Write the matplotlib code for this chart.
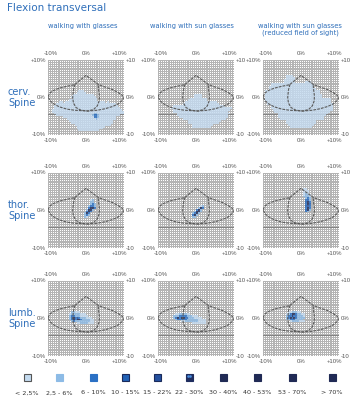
import numpy as np
import matplotlib.pyplot as plt
from matplotlib.colors import ListedColormap, BoundaryNorm
from matplotlib.patches import Rectangle
from matplotlib.collections import LineCollection

# Judul dan label
title = "Flexion transversal"
col_titles = ["walking with glasses", "walking with sun glasses",
              "walking with sun glasses\n(reduced field of sight)"]
row_titles = ["cerv.\nSpine", "thor.\nSpine", "lumb.\nSpine"]

# Kelas persentase (legenda)
legend_labels = ["< 2,5%", "2,5 - 6%", "6 - 10%", "10 - 15%", "15 - 22%",
                 "22 - 30%", "30 - 40%", "40 - 53%", "53 - 70%", "> 70%"]
level_colors = ["#c4dbf0", "#8dbbe6", "#2a70c4", "#2262b6", "#24509e",
                "#1f2d5e", "#202a55", "#202a55", "#202a55", "#202a55"]

# Garis bentuk (lensa + tetes) dalam %
lens_x = [-10, -9.5, -8.5, -7, -5, -3, -2.9, 0, 3.2, 5, 7, 8.5, 9.5, 10,
          9.5, 8.5, 7, 5, 3, 0.5, -3, -5, -7, -8.5, -9.5, -10]
lens_y = [0.2, 1.2, 1.9, 2.5, 3.0, 3.4, 3.5, 5.9, 3.5, 2.8, 2.1, 1.3, 0.6, 0.1,
          -0.8, -1.7, -2.4, -3.0, -3.4, -3.6, -3.4, -3.1, -2.5, -1.7, -0.8, 0.2]
drop_x = [-2.9, -3.3, -3.5, -3.3, -2.6, -1.3, 0.5, 2.0, 3.0, 3.5, 3.5, 3.3, 3.2]
drop_y = [3.5, 2.0, 0.0, -1.5, -2.7, -3.4, -3.6, -3.2, -2.2, -0.8, 0.7, 2.2, 3.5]

# Peta panas tiap panel: (kolom awal, baris awal, baris) - sel 0.5 %
# '.' = kosong, angka = kelas (1 = < 2,5% ... 7 = 30 - 40%)
cerv_glasses = (2, 16, [
    "..............111.....................",
    ".............11111....................",
    "...........11111111111................",
    "..........1111111111111...............",
    "...........1111111111111..............",
    ".........111111111111111..............",
    "....11.111111111111111111111.1........",
    "..11111111111111111111111111111111....",
    ".1111111111111111111111111111111111...",
    ".11111111111111111111111111111111111..",
    "1111111111111111111111111111111111111.",
    "11111111111111111111111111111111111111",
    ".1111111111111111111112211111111111111",
    "..1111111111111111111233211111111111..",
    "......1111111111111111332111111111....",
    "........11111111111111121111111111....",
    ".........11111111111111111111111......",
    "..........1111111111111111111111......",
    "............1111111111111111111.......",
    ".............111111111111111..........",
    ".............11111111111111...........",
    "..............11111111111.............",
])
cerv_sun = (5, 18, [
    "..............1111.................",
    "..............1111.................",
    "............111111111..............",
    "...........1111111111..............",
    ".........11111111111111111.........",
    "........1111111111111111111........",
    "...111111111111111111111111111.....",
    "..11111111111111111111111111111111.",
    "...111111111111111111111111111111..",
    "...11111111111111111111111111111...",
    ".....1111111111111111111111111111..",
    ".....111111111111111111111111111...",
    "......11111111111111111111111111...",
    "........11111111111111111111111....",
    "...........11111111111111111.......",
    "...........1111111111111111........",
    ".............11111111111...........",
    ".............1111111111............",
])
cerv_reduced = (0, 8, [
    "............1111....................",
    "............11111...................",
    "...........111111...................",
    "...........111111.....111...........",
    "....1111111111111111111111..........",
    "....11111111111111111111111.........",
    "...111111111111111111111111.........",
    "...1111111111111111111111111........",
    ".11111111111111111111111111111......",
    ".11111111111111111111111111111......",
    ".111111111111111111111111111111.....",
    ".111111111111111111111111111111.....",
    ".11111111111111111111111111111111111",
    ".11111111111111111111111111111111111",
    "..1111111111111111111111111111111111",
    "..11111111111111111111111111111111111",
    "....111111111111111111111111111111111",
    "....111111111111111111111111111111111",
    ".....11111111111111111111111111111111",
    "......11111111111111111111111111111..",
    "........11111111111111111111111111...",
    "........1111111111111111111111111....",
    "........111111111111111111111111.....",
    ".........11111111111111111111111.....",
    "............1111111111111111.........",
    "............1111111111111111.........",
    ".............11111111111111..........",
    "..............111111111111...........",
])
thor_glasses = (19, 14, [
    "...12.",
    "...22.",
    "...232",
    "..2332",
    "..3673",
    ".2762.",
    ".363..",
    "273...",
    "232...",
    "21....",
])
thor_sun = (18, 17, [
    "....12",
    "...273",
    "..372.",
    ".2762.",
    "2372..",
    "372...",
    "22....",
])
thor_reduced = (20, 8, [
    ".11..",
    ".111.",
    ".121.",
    ".1221",
    ".2221",
    "..232",
    "..342",
    "..463",
    "..374",
    "..453",
    "..373",
    "..462",
    "..32.",
])
lumb_glasses = (10, 16, [
    "..22111.......",
    ".122222111....",
    ".2332221111...",
    ".237353222111.",
    ".2363773222211",
    "..232222222211",
    ".....112222111",
])
lumb_sun = (6, 17, [
    "...11222211........",
    "..2223333222111....",
    "..237377332221111..",
    "...2333332222221111",
    "......1122222221111",
    "............1111111",
])
lumb_reduced = (11, 16, [
    "..1122211...",
    ".1237732211.",
    ".2336332221.",
    ".2373732222.",
    ".223332222..",
    "...12222111.",
])
panels = [[cerv_glasses, cerv_sun, cerv_reduced],
          [thor_glasses, thor_sun, thor_reduced],
          [lumb_glasses, lumb_sun, lumb_reduced]]

W, H = 356, 400
col_left = [48, 158, 263]
row_top = [60, 173, 281]
pw, ph = 76, 75
blue = "#2f6fba"
gray_txt = "#555555"
tick_font = "Liberation Sans"

cmap = ListedColormap(level_colors)
norm = BoundaryNorm(np.arange(0.5, 11.5, 1), cmap.N)
edges = np.linspace(-10, 10, 41)

fig = plt.figure(figsize=(W / 100, H / 100), dpi=100)

for r in range(3):
    for c in range(3):
        ax = fig.add_axes([col_left[c] / W, 1 - (row_top[r] + ph) / H, pw / W, ph / H])
        ax.set_xlim(-10, 10)
        ax.set_ylim(-10, 10)
        ax.axis("off")

        # grid halus
        segs = [[(v, -10), (v, 10)] for v in edges] + [[(-10, v), (10, v)] for v in edges]
        ax.add_collection(LineCollection(segs, colors="#b4b4b4", linewidths=0.5,
                                         antialiaseds=False, zorder=1))
        ax.plot([-10, 10], [-4.5, -4.5], color="#7a7a7a", lw=0.6, zorder=1)

        # isi peta panas (di atas grid, sedikit transparan)
        col0, row0, rows = panels[r][c]
        z = np.full((40, 40), np.nan)
        for j in range(len(rows)):
            for i in range(len(rows[j])):
                ch = rows[j][i]
                if ch != ".":
                    z[row0 + j, col0 + i] = int(ch)
        ax.pcolormesh(edges, edges[::-1], z, cmap=cmap, norm=norm, alpha=0.82, zorder=2)

        # garis bentuk
        ax.plot(lens_x, lens_y, color="#5a5a5a", lw=0.8, ls=(0, (2.5, 1)), zorder=3)
        ax.plot(drop_x, drop_y, color="#5a5a5a", lw=0.8, ls=(0, (2.5, 1)), zorder=3)

        # label sumbu
        fs = 4.3
        for xv, lab in [(-9.2, "-10%"), (0, "0%"), (8.8, "+10%")]:
            ax.annotate(lab, xy=(xv, 10), xytext=(0, 3), textcoords="offset points",
                        ha="center", va="bottom", fontsize=fs, color=gray_txt,
                        family=tick_font)
            ax.annotate(lab, xy=(xv, -10), xytext=(0, -2), textcoords="offset points",
                        ha="center", va="top", fontsize=fs, color=gray_txt,
                        family=tick_font)
        for yv, lab in [(10, "+10%"), (0, "0%"), (-10, "-10%")]:
            ax.annotate(lab, xy=(-10, yv), xytext=(-1.5, 0), textcoords="offset points",
                        ha="right", va="center", fontsize=fs, color=gray_txt,
                        family=tick_font)
        for yv, lab in [(10, "+10"), (0, "0%"), (-10, "-10")]:
            ax.annotate(lab, xy=(10, yv), xytext=(1, 0), textcoords="offset points",
                        ha="left", va="center", fontsize=fs, color=gray_txt,
                        family=tick_font)

# lapisan teks dan legenda
top = fig.add_axes([0, 0, 1, 1])
top.set_xlim(0, W)
top.set_ylim(H, 0)
top.axis("off")
top.text(7, 8, title, fontsize=7.5, color=blue, ha="left", va="center")
col_cx = [83, 192, 300]
for c in range(3):
    top.text(col_cx[c], 23, col_titles[c], fontsize=4.9, color=blue,
             ha="center", va="top", linespacing=1.15)
for r in range(3):
    top.text(8, row_top[r] + ph / 2, row_titles[r], fontsize=7, color=blue,
             ha="left", va="center", linespacing=1.1)

leg_x = [27, 59, 93, 125, 157, 189, 223, 257, 292, 332]
for k in range(10):
    edge = "#555555" if k == 0 else ("#1a2a5a" if k in (3, 4) else level_colors[k])
    top.add_patch(Rectangle((leg_x[k] - 3.5, 374), 7, 7, facecolor=level_colors[k],
                            edgecolor=edge, lw=0.8))
    if k == 5:
        top.plot([leg_x[k] - 1.2, leg_x[k] + 1.2], [376, 376], ls="none",
                 marker="s", ms=0.8, color="#4a8ee0")
    top.text(leg_x[k], 393, legend_labels[k], fontsize=4.6, color="#333333",
             ha="center", va="center")

fig.savefig("out.png", dpi=100)
